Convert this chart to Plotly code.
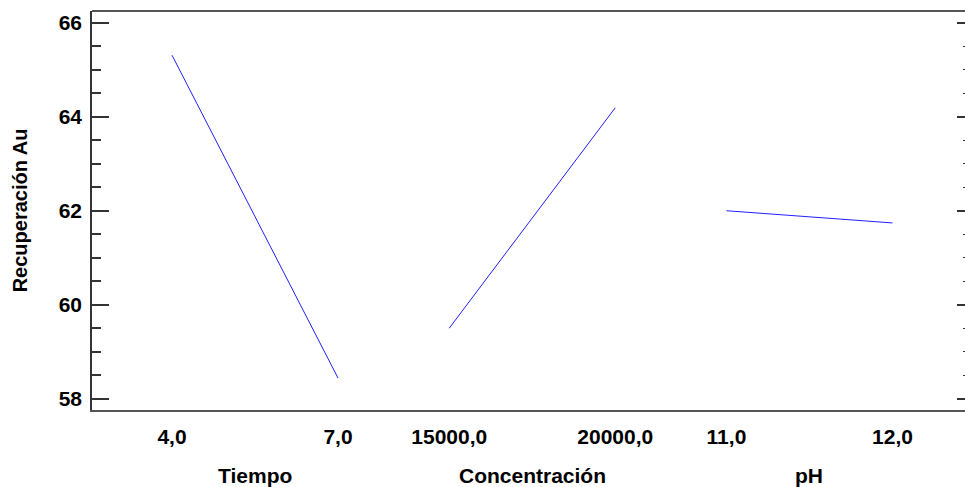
import plotly.graph_objects as go

factors = ["Tiempo", "Concentración", "pH"]
level_labels = [["4,0", "7,0"], ["15000,0", "20000,0"], ["11,0", "12,0"]]
low_means = [65.31, 59.50, 62.00]
high_means = [58.44, 64.19, 61.74]

PERIOD = 1.67  # spacing between factor blocks on the shared axis
FONT = "Liberation Sans, Arial, sans-serif"
BOLD = dict(family=FONT, size=21, color="black", weight="bold")
AXC = "#333333"

fig = go.Figure()
tickvals, ticktext = [], []
for i, f in enumerate(factors):
    xs = [i * PERIOD, i * PERIOD + 1]
    fig.add_trace(go.Scatter(x=xs, y=[low_means[i], high_means[i]], mode="lines",
                             line=dict(color="#2020ff", width=1), showlegend=False,
                             hoverinfo="skip"))
    tickvals += xs
    ticktext += level_labels[i]
    fig.add_annotation(x=i * PERIOD + 0.5, y=-0.165, xref="x", yref="paper",
                       text=f, showarrow=False, yanchor="middle", font=BOLD)

# invisible trace carrying the right-hand tick axis
fig.add_trace(go.Scatter(x=[0], y=[60], yaxis="y2", mode="markers",
                         marker=dict(opacity=0), showlegend=False, hoverinfo="skip"))

# top border
fig.add_shape(type="line", xref="paper", yref="paper", x0=0, x1=1, y0=1, y1=1,
              line=dict(color="#555555", width=2))

yr = [57.76, 66.25]
fig.update_layout(
    width=965, height=487,
    margin=dict(l=92, r=0, t=11, b=77),
    paper_bgcolor="white", plot_bgcolor="white",
    font=BOLD,
    xaxis=dict(range=[-0.482, 4.777], tickvals=tickvals, ticktext=ticktext,
               showgrid=False, zeroline=False, showline=True, mirror=False,
               linecolor="#555555", linewidth=2, ticks="", ticklabelstandoff=7,
               tickfont=BOLD),
    yaxis=dict(range=yr, dtick=2, tick0=58, showgrid=False, zeroline=False,
               showline=True, linecolor=AXC, linewidth=1.5, mirror=False,
               ticks="inside", ticklen=17, tickwidth=1.5, tickcolor=AXC,
               minor=dict(dtick=0.5, ticks="inside", ticklen=9, tickwidth=1.5,
                          tickcolor=AXC, showgrid=False),
               tickfont=BOLD,
               ticklabelstandoff=4,
               title=dict(text="Recuperación Au", standoff=26,
                          font=dict(family=FONT, size=20, color="black", weight="bold"))),
    yaxis2=dict(range=yr, dtick=2, tick0=58, overlaying="y", side="right",
                showgrid=False, zeroline=False, showline=False,
                showticklabels=False,
                ticks="inside", ticklen=8, tickwidth=1.5, tickcolor=AXC,
                minor=dict(dtick=0.5, ticks="inside", ticklen=2, tickwidth=1,
                           tickcolor=AXC, showgrid=False)),
)

fig.write_html("out.html")
